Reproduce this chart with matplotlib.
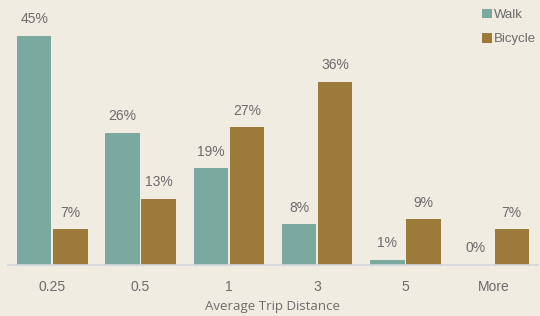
import matplotlib
matplotlib.use("Agg")
import matplotlib.pyplot as plt
import numpy as np

# trip distance buckets and mode share (%)
categories = ["0.25", "0.5", "1", "3", "5", "More"]
walk = [45, 26, 19, 8, 1, 0]
bicycle = [7, 13, 27, 36, 9, 7]

walkColor = "#7aa99f"
bikeColor = "#9b7a3a"
bg = "#f0ece2"
textColor = "#6b6b6b"

plt.rcParams["font.family"] = ["Liberation Sans", "DejaVu Sans"]

fig = plt.figure(figsize=(5.4, 3.16), dpi=100, facecolor=bg)
ax = fig.add_axes([0.015, 0.161, 0.981, 0.839])
ax.set_facecolor(bg)

x = np.arange(len(categories))
w = 0.39
gap = 0.01
b1 = ax.bar(x - w / 2 - gap, walk, w, color=walkColor, label="Walk")
b2 = ax.bar(x + w / 2 + gap, bicycle, w, color=bikeColor, label="Bicycle")

for bars, vals in [(b1, walk), (b2, bicycle)]:
    for bar, v in zip(bars, vals):
        ax.annotate(f"{v}%", (bar.get_x() + bar.get_width() / 2, v),
                    xytext=(0, 7), textcoords="offset points",
                    ha="center", va="bottom", fontsize=10, color=textColor)

ax.set_xlim(-0.5, len(categories) - 0.5)
ax.set_ylim(0, 52)
ax.set_xticks(x)
ax.set_xticklabels(categories, fontsize=10, color=textColor)
ax.tick_params(axis="x", length=0, pad=11)
ax.set_yticks([])
for s in ["top", "right", "left"]:
    ax.spines[s].set_visible(False)
ax.spines["bottom"].set_color("#d3d6dc")
ax.spines["bottom"].set_linewidth(1.2)

ax.set_xlabel("Average Trip Distance", fontsize=9.5, color=textColor,
              family="Open Sans", labelpad=4)

leg = ax.legend(loc="upper left", bbox_to_anchor=(0.87, 1.01),
                bbox_transform=fig.transFigure, frameon=False,
                handlelength=0.75, handleheight=0.75, handletextpad=0.2,
                labelspacing=0.9, fontsize=9.5)
for t in leg.get_texts():
    t.set_color(textColor)

fig.savefig("out.png", dpi=100, facecolor=bg)
